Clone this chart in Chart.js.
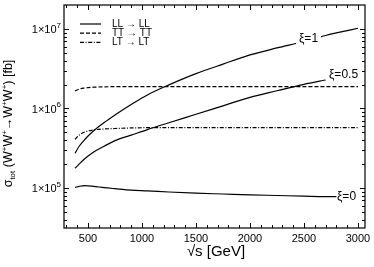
<!DOCTYPE html>
<html>
<head>
<title>W+W+ cross section</title>
<script src="https://cdn.jsdelivr.net/npm/chart.js"></script>
<style>
    body { margin: 0; background: #fff; }
</style>
</head>
<body>
<canvas id="xsec" width="374" height="267"></canvas>
<script>
// sqrt(s) in GeV
const energy = [380, 420, 470, 550, 650, 750, 900, 1050, 1250, 1500, 1750, 2000, 2250, 2500, 2700, 2800, 3000];
// sigma_tot in fb
const llXi1  = [2.73e5, 3.37e5, 4.07e5, 5.21e5, 6.67e5, 8.28e5, 1.12e6, 1.48e6, 1.98e6, 2.74e6, 3.61e6, 4.71e6, 5.77e6, 6.95e6, 8.28e6, 8.91e6, 1.02e7];
const llXi05 = [1.77e5, 2.01e5, 2.33e5, 2.81e5, 3.35e5, 3.94e5, 4.62e5, 5.43e5, 6.62e5, 8.45e5, 1.08e6, 1.38e6, 1.67e6, 2.01e6, 2.28e6, null, null];
const llXi0  = [1.02e5, 1.05e5, 1.07e5, 1.05e5, 1.01e5, 9.8e4, 9.4e4, 9.2e4, 8.9e4, 8.6e4, 8.4e4, 8.2e4, 8.05e4, 7.9e4, 7.8e4, 7.8e4, null];
const ttTT   = [1.66e6, 1.76e6, 1.81e6, 1.85e6, 1.87e6, 1.88e6, 1.88e6, 1.88e6, 1.88e6, 1.88e6, 1.88e6, 1.88e6, 1.88e6, 1.88e6, 1.88e6, 1.88e6, 1.88e6];
const ltLT   = [4.10e5, 4.64e5, 5.06e5, 5.37e5, 5.52e5, 5.60e5, 5.69e5, 5.73e5, 5.73e5, 5.73e5, 5.73e5, 5.73e5, 5.73e5, 5.73e5, 5.73e5, 5.73e5, 5.73e5];

const xTicks = [500, 1000, 1500, 2000, 2500, 3000];
const yTicks = [1e5, 1e6, 1e7];
const legendLabels = ['LL \u2192 LL', 'TT \u2192 TT', 'LT \u2192 LT'];
const curveLabels = ['\u03be=1', '\u03be=0.5', '\u03be=0'];

const FONT = '"Liberation Sans", Arial, sans-serif';
const DASH = [4, 2];
const DASHDOT = [4, 1.6, 1, 1.6];

function pts(ys) {
    return energy.map((x, i) => ({ x: x, y: ys[i] }));
}

function line(ys, dash) {
    return {
        data: pts(ys),
        borderColor: '#000',
        borderWidth: 1.2,
        borderDash: dash,
        pointRadius: 0,
        fill: false,
        cubicInterpolationMode: 'monotone',
        spanGaps: false
    };
}

// draws text pieces [text, size, dy] one after another
function richText(ctx, parts, x, y) {
    let w = 0;
    parts.forEach(p => { ctx.font = p[1] + 'px ' + FONT; w += ctx.measureText(p[0]).width; });
    let cx = x - w / 2;
    parts.forEach(p => {
        ctx.font = p[1] + 'px ' + FONT;
        ctx.fillText(p[0], cx, y + p[2]);
        cx += ctx.measureText(p[0]).width;
    });
}

const frame = {
    id: 'frame',
    afterDraw(chart) {
        const ctx = chart.ctx;
        const a = chart.chartArea;
        const xs = chart.scales.x, ys = chart.scales.y;
        ctx.save();
        ctx.strokeStyle = '#000';
        ctx.fillStyle = '#000';
        ctx.lineWidth = 1.2;
        ctx.setLineDash([]);
        ctx.strokeRect(a.left, a.top, a.right - a.left, a.bottom - a.top);

        // x ticks, inside, top and bottom
        ctx.lineWidth = 1;
        for (let v = 300; v <= 3000; v += 100) {
            const px = Math.round(xs.getPixelForValue(v)) + 0.5;
            const len = v % 500 === 0 ? 5 : 3;
            ctx.beginPath();
            ctx.moveTo(px, a.bottom); ctx.lineTo(px, a.bottom - len);
            ctx.moveTo(px, a.top); ctx.lineTo(px, a.top + len);
            ctx.stroke();
        }
        // y ticks, log minor
        for (let e = 4; e <= 7; e++) {
            for (let m = 1; m <= 9; m++) {
                const v = m * Math.pow(10, e);
                if (v < ys.min || v >= ys.max) continue;
                const py = Math.round(ys.getPixelForValue(v)) + 0.5;
                const len = m === 1 ? 5 : 3;
                ctx.beginPath();
                ctx.moveTo(a.left, py); ctx.lineTo(a.left + len, py);
                ctx.moveTo(a.right, py); ctx.lineTo(a.right - len, py);
                ctx.stroke();
            }
        }

        // tick labels
        ctx.textBaseline = 'middle';
        ctx.textAlign = 'center';
        ctx.font = '11px ' + FONT;
        xTicks.forEach(v => ctx.fillText(String(v), xs.getPixelForValue(v), a.bottom + 11));

        ctx.textBaseline = 'alphabetic';
        ctx.textAlign = 'left';
        yTicks.forEach(v => {
            const py = ys.getPixelForValue(v);
            const ex = String(Math.round(Math.log10(v)));
            ctx.font = '8px ' + FONT;
            const ew = ctx.measureText(ex).width;
            ctx.font = '11px ' + FONT;
            const bw = ctx.measureText('1\u00d710').width;
            const x0 = a.left - 3 - ew - bw;
            ctx.fillText('1\u00d710', x0, py + 4.5);
            ctx.font = '8px ' + FONT;
            ctx.fillText(ex, x0 + bw, py - 1);
        });

        // axis titles
        ctx.font = '15px ' + FONT;
        ctx.textAlign = 'center';
        ctx.textBaseline = 'middle';
        ctx.fillText('\u221as [GeV]', 216, 252);

        ctx.save();
        ctx.translate(12, 123.5);
        ctx.rotate(-Math.PI / 2);
        ctx.textAlign = 'left';
        ctx.textBaseline = 'alphabetic';
        richText(ctx, [
            ['\u03c3', 12.5, 0], ['tot', 8, 3], [' (W', 12.5, 0], ['+', 8, -5], ['W', 12.5, 0], ['+', 8, -5],
            ['\u2192W', 12.5, 0], ['+', 8, -5], ['W', 12.5, 0], ['+', 8, -5], [') [fb]', 12.5, 0]
        ], 0, 0);
        ctx.restore();

        // legend
        const styles = [[], DASH, DASHDOT];
        ctx.font = '10px ' + FONT;
        ctx.textAlign = 'left';
        ctx.textBaseline = 'middle';
        legendLabels.forEach((t, i) => {
            const y = 24 + i * 9.2;
            ctx.setLineDash(styles[i]);
            ctx.lineWidth = 1.2;
            ctx.beginPath();
            ctx.moveTo(80, y); ctx.lineTo(101, y);
            ctx.stroke();
            ctx.setLineDash([]);
            ctx.fillText(t, 112, y);
        });

        // curve labels
        ctx.font = '12px ' + FONT;
        ctx.fillStyle = '#fff';
        ctx.fillRect(296, 30, 25, 17);
        ctx.fillStyle = '#000';
        ctx.fillText(curveLabels[0], 299, 39);
        ctx.fillText(curveLabels[1], 329, 75);
        ctx.fillText(curveLabels[2], 337, 197);
        ctx.restore();
    }
};

new Chart(document.getElementById('xsec').getContext('2d'), {
    type: 'line',
    data: {
        datasets: [
            line(llXi1, []),
            line(llXi05, []),
            line(llXi0, []),
            line(ttTT, DASH),
            line(ltLT, DASHDOT)
        ]
    },
    options: {
        responsive: false,
        animation: false,
        layout: { padding: { top: 5, right: 9, left: 0, bottom: 0 } },
        plugins: { legend: { display: false }, tooltip: { enabled: false } },
        scales: {
            x: {
                type: 'linear', min: 278, max: 3065,
                ticks: { display: false },
                grid: { display: false, drawTicks: false },
                border: { display: false },
                afterFit: s => { s.height = 39; }
            },
            y: {
                type: 'logarithmic', min: 3.14e4, max: 2.0e7,
                ticks: { display: false },
                grid: { display: false, drawTicks: false },
                border: { display: false },
                afterFit: s => { s.width = 64; }
            }
        }
    },
    plugins: [frame]
});
</script>
</body>
</html>
